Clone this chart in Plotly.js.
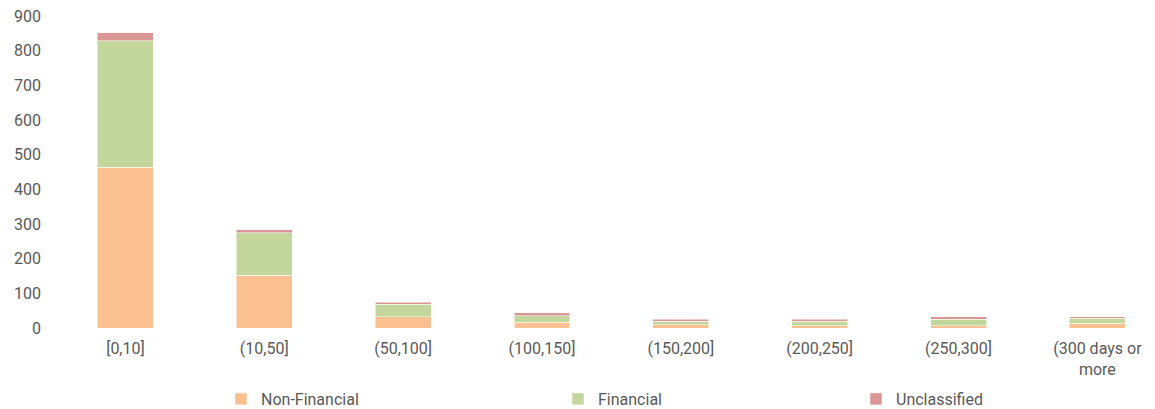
<!DOCTYPE html>
<html>
<head>
<meta charset="utf-8">
<script src="https://cdn.plot.ly/plotly-3.0.1.min.js"></script>
<style>html,body{margin:0;padding:0;background:#fff;}#chart{width:1155px;height:409px;}</style>
</head>
<body>
<div id="chart"></div>
<script>
const categories = ["[0,10]", "(10,50]", "(50,100]", "(100,150]", "(150,200]", "(200,250]", "(250,300]", "(300 days or<br>more"];
const nonFinancial = [464, 152, 32, 17, 10, 7, 7, 14];
const financial = [365, 123, 36, 19, 10, 13, 18, 14];
const unclassified = [23, 8, 7, 8, 5, 5, 7, 4];
const yTicks = [0, 100, 200, 300, 400, 500, 600, 700, 800, 900];

const txt = {family: "Roboto, 'Liberation Sans', Arial, sans-serif", size: 16, color: "#595959"};
const line = {color: "#ffffff", width: 0.5};

const traces = [
  {type: "bar", name: "Non-Financial", x: categories, y: nonFinancial, marker: {color: "#FAC090", line: line}, legend: "legend"},
  {type: "bar", name: "Financial", x: categories, y: financial, marker: {color: "#C3D69B", line: line}, legend: "legend2"},
  {type: "bar", name: "Unclassified", x: categories, y: unclassified, marker: {color: "#D99694", line: line}, legend: "legend3"}
];

const legBase = {orientation: "h", yanchor: "middle", xanchor: "left", y: 1 - 399 / 409, font: txt, bgcolor: "rgba(0,0,0,0)", borderwidth: 0, xref: "container", yref: "container"};

const layout = {
  width: 1155, height: 409,
  margin: {l: 56, r: 0, t: 16, b: 80.5, pad: 0, autoexpand: false},
  paper_bgcolor: "#ffffff", plot_bgcolor: "#ffffff",
  barmode: "stack",
  bargap: 0.597,
  font: txt,
  showlegend: true,
  xaxis: {type: "category", range: [-0.5, 7.415], showgrid: false, zeroline: false, showline: false, ticks: "", tickfont: txt, ticklabelstandoff: 9, fixedrange: true, automargin: false},
  yaxis: {range: [0, 900], tickvals: yTicks, ticktext: yTicks.map(String), showgrid: false, zeroline: false, showline: false, ticks: "", tickfont: txt, ticklabelstandoff: 14, fixedrange: true, automargin: false},
  legend: Object.assign({}, legBase, {x: 221 / 1155}),
  legend2: Object.assign({}, legBase, {x: 558 / 1155}),
  legend3: Object.assign({}, legBase, {x: 856 / 1155})
};

Plotly.newPlot("chart", traces, layout, {displayModeBar: false, staticPlot: true});
</script>
</body>
</html>
